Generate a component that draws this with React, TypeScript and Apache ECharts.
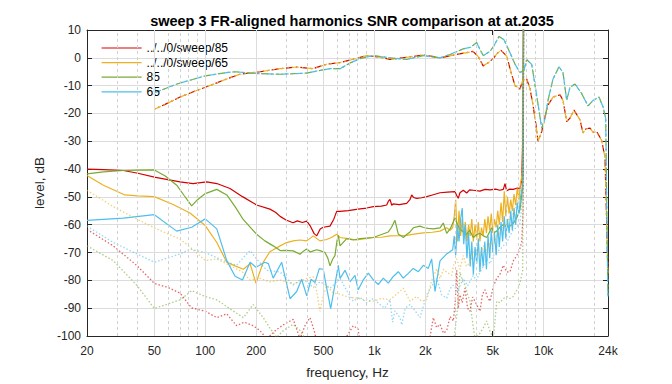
import React, { useEffect, useRef } from 'react';
import * as echarts from 'echarts';

type Pt = [number, number];

const TITLE = 'sweep 3 FR-aligned harmonics SNR comparison at at.2035';
const X_NAME = 'frequency, Hz';
const Y_NAME = 'level, dB';
const LEGEND_NAMES = ['../../0/sweep/85', '../../0/sweep/65', '85', '65'];
const COLORS = ['#d40000', '#edb120', '#77ac30', '#4dbeee'];
const X_TICKS = [20, 50, 100, 200, 500, 1000, 2000, 5000, 10000, 24000];
const X_TICK_LABELS = ['20', '50', '100', '200', '500', '1k', '2k', '5k', '10k', '24k'];
const X_MINOR = [30, 40, 60, 70, 80, 90, 300, 400, 600, 700, 800, 900, 3000, 4000, 6000, 7000, 8000, 9000, 20000];
const Y_MIN = -100;
const Y_MAX = 10;
const Y_STEP = 10;

// fundamental frequency response (dash-dot), shared by the two "sweep" runs
const frSweep: Pt[] = [[50,-18.5],[60,-16.3],[71,-14.1],[85,-12.2],[100,-10.6],[117,-9],[134,-7.6],[160,-5.9],[211,-5.0],[277,-3.9],[347,-3.3],[433,-3.9],[522,-2.3],[626,-1.7],[750,-0.5],[900,0.8],[1080,0.2],[1235,-0.6],[1550,0.2],[1938,1.0],[2200,0.5],[2440,0],[2750,0.6],[3062,1.2],[3450,1.8],[3824,2.3],[4100,0.5],[4390,-2.9],[4700,-1.8],[5024,-0.3],[5300,1.5],[5596,2.7],[6046,0.6],[6400,-5],[6770,-10],[7246,-11.2],[7518,-8.1],[7936,-7.6],[8300,-11],[8650,-17],[9000,-24],[9260,-30],[9738,-26.5],[10200,-21],[10610,-17],[11356,-14.1],[12490,-13.3],[13010,-15.3],[13682,-22.9],[14310,-21.7],[15112,-18.8],[16398,-22.3],[17080,-27],[17800,-25.5],[18788,-25.3],[19600,-26.8],[20580,-26.5],[22020,-29.7],[23040,-35.9],[23580,-60],[24000,-78]];
// fundamental frequency response (dash-dot), shared by "85" and "65"
const frPlain: Pt[] = [[50,-12.6],[68,-9.4],[84,-7.8],[100,-6.5],[134,-5.3],[150,-5.0],[192,-5.6],[277,-5.9],[398,-5.5],[470,-4.6],[546,-3.9],[626,-3.9],[720,-1.8],[821,-0.3],[982,0.8],[1235,0],[1550,-0.6],[1938,0.8],[2440,0],[2795,1.2],[3343,3.2],[3700,3.8],[4020,5.5],[4200,3],[4390,0.8],[4818,2.3],[5100,4.5],[5446,7.7],[5828,6.5],[6325,1.8],[6800,-2.5],[7246,-5.3],[7650,-4.5],[7936,-0.6],[8500,-2.4],[9096,-13.6],[9738,-25.3],[10186,-21.7],[10610,-15.3],[11356,-7.6],[12320,-3.2],[13010,-5.3],[13682,-15.3],[14310,-10.6],[15320,-9.4],[16784,-12.9],[18284,-17.3],[19570,-15.3],[21240,-14.1],[22420,-17.6],[23260,-21.7],[23780,-70],[24000,-86]];

// solid SNR curves
const snrRed: Pt[] = [[20,-40],[25,-40.2],[32.8,-40.5],[40,-41.5],[50,-42.9],[60,-43.8],[71,-44.6],[84.6,-45.2],[102,-44.6],[117,-45.2],[140,-47],[166,-49.9],[201,-52.9],[241,-54.4],[260,-55.5],[277,-57],[300,-58.3],[330,-59.3],[350,-58.6],[375,-59.2],[398,-58.7],[416,-60.3],[440,-63.2],[456,-64],[478,-61.5],[498,-60.9],[546,-60.5],[575,-58],[598,-55.2],[626,-55.2],[700,-54.9],[800,-54.4],[900,-54],[984,-53.5],[1100,-53.3],[1181,-52.9],[1210,-51.5],[1235,-50.9],[1265,-53],[1287,-52.5],[1400,-52.8],[1550,-52.3],[1620,-51],[1660,-49.3],[1700,-50.2],[1777,-50.5],[1900,-50.3],[2036,-49.9],[2200,-49.3],[2440,-48.5],[2700,-48.3],[2992,-48.1],[3062,-49.5],[3129,-50.5],[3200,-48.5],[3350,-47.6],[3508,-48.6],[3650,-47.5],[3838,-47.6],[4200,-47.9],[4500,-47.3],[4818,-47.5],[5200,-47.2],[5500,-47.6],[5774,-47.3],[5908,-45.2],[6046,-47.8],[6300,-47.2],[6614,-47.3],[7000,-46.8],[7246,-47],[7414,-44],[7518,-30],[7620,30]];
const snrOrange: Pt[] = [[20,-42.3],[25,-45.8],[33.5,-49.3],[40,-49.6],[50,-49.9],[65,-52.8],[81.2,-55.8],[100,-60.3],[117,-66.4],[134,-73.5],[150,-74.8],[168,-76],[184,-74],[199.5,-81.1],[210,-77],[220,-73.5],[241,-69.7],[277,-67.6],[300,-66.5],[331,-65.8],[363,-65.5],[398,-65.8],[435,-64],[476,-65.8],[522,-65.3],[560,-64.5],[598,-63.4],[626,-64.6],[700,-65],[785,-65.5],[880,-65],[984,-64.6],[1100,-64.5],[1235,-64],[1400,-63.9],[1550,-63.8],[1750,-63.3],[1944,-62.9],[2200,-62.7],[2440,-62.3],[2672,-61.1],[2800,-62],[2900,-61],[2960,-57],[3020,-51],[3090,-66],[3160,-55],[3230,-64],[3300,-58],[3370,-65],[3440,-59],[3520,-66],[3600,-60],[3680,-64],[3760,-58],[3840,-66],[3930,-60],[4020,-65],[4110,-59],[4200,-66],[4290,-61],[4390,-64],[4490,-58],[4590,-63],[4690,-57],[4800,-62],[4900,-56],[5010,-63],[5120,-58],[5240,-61],[5350,-55],[5470,-60],[5600,-52],[5720,-59],[5850,-48],[5980,-57],[6110,-50],[6250,-56],[6390,-51],[6530,-55],[6680,-49],[6830,-53],[6980,-47],[7140,-51],[7300,-45],[7450,-42],[7560,-38],[7620,30]];
const snrGreen: Pt[] = [[20,-41.7],[25,-41],[32.8,-40.5],[40,-40.4],[50,-40.3],[58,-42.5],[67.8,-45.8],[75,-49.5],[83.1,-53.2],[90,-51],[100,-48.8],[117,-47.3],[134,-49.3],[150,-53.5],[168,-58.2],[201,-63.4],[225,-65.8],[252,-67.6],[277,-69.3],[300,-69.2],[331,-69.4],[363,-70.6],[380,-69.5],[398,-68.7],[418,-69.8],[435,-69.4],[456,-69],[476,-69.3],[510,-70],[530,-72],[546,-74.8],[565,-72.5],[584,-71.1],[600,-66],[611,-63.8],[626,-67.6],[650,-66.5],[685,-65],[750,-65.5],[821,-65],[900,-64.8],[984,-64.6],[1100,-63.5],[1207,-62.6],[1260,-61],[1322,-58.4],[1383,-63.4],[1440,-64],[1480,-64.6],[1550,-63.5],[1622,-62.6],[1696,-61.1],[1777,-60.8],[1858,-60.5],[1950,-61],[2080,-61.3],[2228,-61.5],[2440,-61.1],[2551,-59.4],[2672,-63.1],[2800,-61.5],[2992,-57.6],[3100,-60],[3204,-61.7],[3350,-62.5],[3508,-63.4],[3650,-62],[3838,-64.6],[4020,-63.5],[4204,-63.1],[4398,-64],[4606,-64.6],[4818,-62.3],[4930,-61.1],[5100,-62.8],[5278,-62.3],[5500,-61],[5774,-59.9],[6050,-60.8],[6325,-60.5],[6614,-59.5],[6928,-57.6],[7246,-54.6],[7518,-46.4],[7600,30]];
const snrBlue: Pt[] = [[20,-58.4],[32.8,-57.6],[50,-56.4],[67.8,-62.3],[83.1,-60.9],[100,-57.9],[117,-61.5],[134,-72.9],[150,-78.5],[166,-79.9],[184,-73.5],[199.5,-75.3],[225,-73.5],[236,-74],[252,-79.2],[283,-73.5],[317,-86.6],[347,-84],[371,-79.6],[398,-85.6],[422,-79.6],[445,-80.8],[472,-75.8],[498,-76],[522,-82.8],[551,-90.2],[584,-81.5],[611,-74.6],[626,-79.3],[670,-76.4],[717,-80.5],[767,-78.2],[802,-83.4],[859,-79.8],[920,-77.4],[984,-79.8],[1053,-81.5],[1128,-79.2],[1207,-81],[1292,-78.6],[1383,-76.9],[1480,-79.2],[1584,-77.5],[1696,-75.7],[1816,-76.9],[1944,-74.6],[2080,-75.7],[2178,-72.3],[2280,-84],[2440,-73],[2672,-70.5],[2900,-69],[2960,-64],[3020,-71],[3090,-60],[3160,-66],[3230,-58],[3300,-54],[3370,-67],[3440,-60],[3520,-72],[3600,-63],[3680,-75],[3760,-66],[3840,-78],[3930,-68],[4020,-74],[4110,-65],[4200,-77],[4290,-68],[4390,-75],[4490,-66],[4590,-76],[4690,-64],[4800,-72],[4900,-62],[5010,-70],[5120,-63],[5240,-71],[5350,-60],[5470,-68],[5600,-59],[5720,-66],[5850,-57],[5980,-65],[6110,-58],[6250,-63],[6390,-55],[6530,-62],[6680,-54],[6830,-60],[6980,-52],[7140,-56],[7300,-50],[7450,-47],[7560,-42],[7630,30]];

// dotted harmonic curves
const harmRed: Pt[] = [[20,-61.7],[28.6,-67.6],[39.3,-74.6],[50,-81.1],[60,-82.5],[71,-84.6],[83.1,-89.9],[100,-91.1],[117,-93.4],[134,-92],[153,-96.3],[170,-95],[192,-96.3],[210,-98],[231,-101],[260,-98],[289,-96],[331,-94],[363,-101],[390,-96],[416,-93.4],[440,-98],[456,-102],[500,-103],[560,-101],[640,-103],[750,-96.3],[800,-97.5],[821,-102],[900,-110],[2000,-110],[2228,-93.4],[2330,-97],[2440,-95.8],[2560,-99],[2672,-98],[2800,-93],[2924,-94.6],[3000,-88],[3062,-76.4],[3130,-90],[3204,-85.2],[3300,-88],[3428,-82.8],[3550,-90],[3670,-91.1],[3800,-86],[4020,-88.7],[4204,-91.1],[4350,-85],[4500,-83.4],[4650,-86],[4818,-87.5],[5050,-82],[5278,-79.3],[5500,-78],[5774,-74.6],[6050,-77],[6325,-76.9],[6614,-73],[6928,-71.1],[7200,-69],[7414,-66.4],[7560,-55],[7640,30]];
const harmOrange: Pt[] = [[20,-47.6],[28.6,-53.5],[38,-57.5],[50,-61.1],[71,-65.2],[85,-69],[100,-72.9],[117,-72.3],[134,-74.1],[166,-77],[184,-79.9],[211,-79.3],[240,-80.5],[277,-79.9],[331,-81.4],[398,-79.3],[435,-78.7],[456,-84],[476,-91.1],[500,-85],[522,-82],[570,-84.5],[626,-85],[700,-86],[785,-86.4],[880,-87],[984,-87.5],[1100,-86.5],[1235,-87],[1350,-85],[1480,-82.8],[1622,-87.5],[1777,-85.8],[1900,-87.5],[2036,-87],[2180,-80],[2333,-75.8],[2440,-79.3],[2560,-76],[2672,-77],[2860,-78.2],[2950,-74],[3062,-72.3],[3200,-76],[3350,-71.1],[3500,-75],[3670,-73.5],[3850,-70],[4020,-68.8],[4200,-71],[4398,-67.6],[4600,-69.5],[4818,-66.4],[5050,-67],[5278,-64],[5520,-63],[5774,-60.5],[6050,-59.5],[6325,-57],[6614,-56],[6928,-52.3],[7200,-50],[7414,-44],[7620,30]];
const harmGreen: Pt[] = [[20,-67.6],[28.6,-72.9],[39.3,-81.7],[50,-90.1],[60,-88.5],[71,-87],[83.1,-83.7],[100,-85.8],[117,-87],[146,-91],[168,-93.4],[192,-88.7],[220,-93.4],[240,-97],[264,-100.5],[290,-98],[331,-95.8],[363,-98],[400,-102],[600,-110],[2800,-110],[2950,-101],[3100,-90],[3204,-77],[3300,-80],[3428,-81.7],[3550,-85],[3670,-87.5],[3800,-95],[3928,-101],[4050,-100],[4204,-99],[4400,-97],[4606,-94.6],[4800,-98],[5040,-101],[5150,-95],[5278,-87.5],[5500,-88],[5800,-86.5],[6046,-85.8],[6300,-86.5],[6614,-85.8],[6850,-84],[7080,-82.8],[7300,-80],[7518,-76.4],[7640,30]];
const harmBlue: Pt[] = [[20,-60.5],[28.6,-66.4],[38,-70],[50,-73.5],[71,-70.5],[81.2,-68.8],[100,-70],[128,-72.9],[153,-74.6],[170,-71.5],[184,-69.3],[201,-72.3],[231,-76.4],[277,-77],[300,-79],[331,-81.7],[360,-80],[398,-80.5],[435,-82.6],[476,-80.5],[510,-81.5],[546,-82.8],[590,-81],[626,-79.3],[690,-84],[750,-87.5],[820,-86],[900,-88.1],[984,-86.5],[1078,-88.7],[1150,-90],[1235,-87],[1280,-95],[1320,-91],[1415,-93.4],[1450,-96],[1520,-90],[1622,-88.7],[1740,-91],[1858,-93.4],[2036,-85.2],[2180,-82],[2333,-79.3],[2497,-85.2],[2672,-86.4],[2800,-83],[2924,-81.7],[3100,-84],[3350,-79.3],[3550,-82],[3838,-78.2],[4000,-80],[4204,-77],[4400,-75],[4606,-72.3],[4818,-74],[5040,-71.1],[5280,-70],[5520,-68.8],[5800,-67.5],[6046,-66.4],[6325,-64],[6614,-61.7],[6928,-61],[7246,-59.4],[7518,-49.9],[7640,30]];

const SNR = [snrRed, snrOrange, snrGreen, snrBlue];
const HARM = [harmRed, harmOrange, harmGreen, harmBlue];
const FR = [frSweep, frSweep, frPlain, frPlain];

const FONT = "'Liberation Sans', Arial, Helvetica, sans-serif";
const lx = (f: number) => Math.log10(f);
const toXY = (pts: Pt[]) => pts.map(([f, v]) => [lx(f), v]);

export default function App() {
  const ref = useRef<HTMLDivElement>(null);
  useEffect(() => {
    document.body.style.margin = '0';
    if (!ref.current) return;
    const chart = echarts.init(ref.current, undefined, { renderer: 'svg' });

    const series: any[] = [];
    // grid lines on the log frequency axis
    series.push({
      type: 'line',
      data: [],
      silent: true,
      z: 1,
      markLine: {
        silent: true,
        symbol: ['none', 'none'],
        label: { show: false },
        animation: false,
        data: [
          ...X_TICKS.slice(1, -1).map((f) => ({ xAxis: lx(f), lineStyle: { color: '#dcdcdc', width: 1, type: 'solid' } })),
          ...X_MINOR.map((f) => ({ xAxis: lx(f), lineStyle: { color: '#d2d2d2', width: 1, type: [3, 3] } })),
        ],
      },
    });
    const base = (name: string, color: string) => ({
      type: 'line',
      name,
      symbol: 'none',
      showSymbol: false,
      silent: true,
      clip: true,
      z: 3,
      itemStyle: { color },
      emphasis: { disabled: true },
    });
    for (let i = 0; i < 4; i++) {
      series.push({
        ...base(LEGEND_NAMES[i], COLORS[i]),
        data: toXY(SNR[i]),
        lineStyle: { color: COLORS[i], width: 1.2, type: 'solid' },
      });
    }
    for (let i = 0; i < 4; i++) {
      series.push({
        ...base(LEGEND_NAMES[i], COLORS[i]),
        data: toXY(HARM[i]),
        lineStyle: { color: COLORS[i], width: 1.3, type: [1.5, 2], opacity: 0.6 },
      });
    }
    for (let i = 0; i < 4; i++) {
      series.push({
        ...base(LEGEND_NAMES[i], COLORS[i]),
        data: toXY(FR[i]),
        lineStyle: { color: COLORS[i], width: 1.2, type: [7, 3, 1.5, 3], dashOffset: i % 2 === 0 ? 6 : 0 },
      });
    }

    const tickVals = X_TICKS.map(lx);
    const fmt = (v: number) => {
      const idx = tickVals.findIndex((t) => Math.abs(t - v) < 1e-6);
      return idx >= 0 ? X_TICK_LABELS[idx] : '';
    };

    chart.setOption({
      animation: false,
      textStyle: { fontFamily: FONT },
      title: {
        text: TITLE,
        left: 347,
        textAlign: 'center',
        top: 8,
        textStyle: { fontFamily: FONT, fontSize: 14.5, fontWeight: 'bold', color: '#000' },
      },
      legend: {
        data: LEGEND_NAMES,
        orient: 'vertical',
        left: 101,
        top: 42,
        padding: 0,
        itemWidth: 40,
        itemHeight: 14,
        itemGap: 2.6,
        itemStyle: { opacity: 0 },
        lineStyle: { type: 'solid', width: 1.2, opacity: 1 },
        textStyle: { fontFamily: FONT, fontSize: 12, color: '#000' },
        selectedMode: false,
      },
      grid: { left: 87, right: 64, top: 30, bottom: 42, show: false, containLabel: false },
      xAxis: [
        {
          type: 'value',
          min: lx(20),
          max: lx(24000),
          position: 'bottom',
          axisLine: { show: true, onZero: false, lineStyle: { color: '#262626', width: 1 } },
          axisTick: { show: true, inside: true, length: 5, customValues: tickVals, lineStyle: { color: '#262626' } },
          axisLabel: { show: true, customValues: tickVals, formatter: fmt, fontSize: 12, color: '#262626', margin: 9, fontFamily: FONT },
          splitLine: { show: false },
          name: X_NAME,
          nameLocation: 'middle',
          nameGap: 29,
          nameTextStyle: { fontSize: 13.5, color: '#262626', fontFamily: FONT },
        },
        {
          type: 'value',
          min: lx(20),
          max: lx(24000),
          position: 'top',
          axisLine: { show: true, onZero: false, lineStyle: { color: '#262626', width: 1 } },
          axisTick: { show: true, inside: true, length: 5, customValues: tickVals, lineStyle: { color: '#262626' } },
          axisLabel: { show: false },
          splitLine: { show: false },
        },
      ],
      yAxis: [
        {
          type: 'value',
          min: Y_MIN,
          max: Y_MAX,
          interval: Y_STEP,
          position: 'left',
          axisLine: { show: true, onZero: false, lineStyle: { color: '#262626', width: 1 } },
          axisTick: { show: true, inside: true, length: 5, lineStyle: { color: '#262626' } },
          axisLabel: { fontSize: 12, color: '#262626', margin: 6, fontFamily: FONT },
          splitLine: { show: true, lineStyle: { color: '#dcdcdc', width: 1 } },
          name: Y_NAME,
          nameLocation: 'middle',
          nameGap: 31,
          nameRotate: 90,
          nameTextStyle: { fontSize: 13.5, color: '#262626', fontFamily: FONT },
        },
        {
          type: 'value',
          min: Y_MIN,
          max: Y_MAX,
          interval: Y_STEP,
          position: 'right',
          axisLine: { show: true, onZero: false, lineStyle: { color: '#262626', width: 1 } },
          axisTick: { show: true, inside: true, length: 5, lineStyle: { color: '#262626' } },
          axisLabel: { show: false },
          splitLine: { show: false },
        },
      ],
      series,
    });
    return () => chart.dispose();
  }, []);
  return <div ref={ref} style={{ width: 672, height: 384 }} />;
}
